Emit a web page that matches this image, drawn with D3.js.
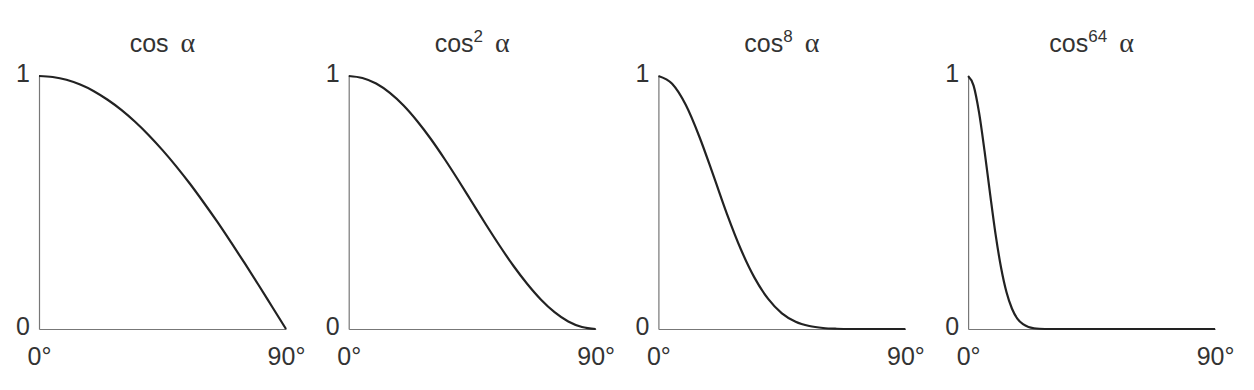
<!DOCTYPE html>
<html lang="en">
    <head>
        <meta charset="utf-8">
        <title>cos powers</title>
        <script type="text/javascript" src="https://cdn.jsdelivr.net/npm/d3@7/dist/d3.min.js"></script>
        <style>
            body { margin: 0; background: #fff; }
            text { font-family: "Liberation Sans", Arial, sans-serif; fill: #333; }
            .axis path { stroke: #777; stroke-width: 1.2; }
        </style>
    </head>
    <body>
        <script type="text/javascript">

            var angles = [0, 5, 10, 15, 20, 25, 30, 35, 40, 45, 50, 55, 60, 65, 70, 75, 80, 85, 90];
            var anglesFine = [0, 2, 4, 6, 8, 10, 12, 14, 16, 18, 20, 22, 24, 26, 30, 40, 60, 90];

            var cos1 = [1, 0.996, 0.985, 0.966, 0.94, 0.906, 0.866, 0.819, 0.766, 0.707, 0.643, 0.574, 0.5, 0.423, 0.342, 0.259, 0.174, 0.087, 0];
            var cos2 = [1, 0.992, 0.97, 0.933, 0.883, 0.821, 0.75, 0.671, 0.587, 0.5, 0.413, 0.329, 0.25, 0.179, 0.117, 0.067, 0.03, 0.008, 0];
            var cos8 = [1, 0.969, 0.885, 0.758, 0.608, 0.454, 0.316, 0.203, 0.119, 0.062, 0.029, 0.012, 0.004, 0.001, 0, 0, 0, 0, 0];
            var cos64 = [1, 0.962, 0.855, 0.703, 0.535, 0.375, 0.243, 0.145, 0.08, 0.04, 0.019, 0.008, 0.003, 0.001, 0, 0, 0, 0];

            var titles = ["", "2", "8", "64"];          // exponent shown in each title
            var yTicks = [0, 1];
            var xTicks = [0, 90];

            var panels = [
                {sup: titles[0], x: angles, y: cos1},
                {sup: titles[1], x: angles, y: cos2},
                {sup: titles[2], x: angles, y: cos8},
                {sup: titles[3], x: anglesFine, y: cos64}
            ];

            var w = 1254, h = 390;
            var left0 = 39, step = 309.7, pw = 247;
            var yTop = 76, yBottom = 329;

            var svg = d3.select("body")
                .append("svg")
                .attr("width", w)
                .attr("height", h);

            var yScale = d3.scaleLinear().domain([0, 1]).range([yBottom, yTop]);

            panels.forEach(function(p, i) {
                var x0 = left0 + i * step;
                var xScale = d3.scaleLinear().domain([0, 90]).range([0, pw]);

                var g = svg.append("g").attr("transform", "translate(" + x0 + ",0)");

                var yAxis = d3.axisLeft(yScale)
                    .tickValues(yTicks)
                    .tickSize(0)
                    .tickPadding(9)
                    .tickFormat(d3.format("d"));
                var ya = g.append("g").attr("class", "axis").call(yAxis);

                var xAxis = d3.axisBottom(xScale)
                    .tickValues(xTicks)
                    .tickSize(0)
                    .tickPadding(18)
                    .tickFormat(function(d) { return d + "\u00b0"; });
                g.append("g").attr("class", "axis")
                    .attr("transform", "translate(0," + yBottom + ")")
                    .call(xAxis);

                g.selectAll(".axis text")
                    .attr("font-size", 25)
                    .attr("font-family", "Liberation Sans, Arial, sans-serif")
                    .attr("fill", "#333");
                ya.selectAll("text").attr("dy", "0.2em");

                var line = d3.line()
                    .x(function(d, k) { return xScale(p.x[k]); })
                    .y(function(d) { return yScale(d); })
                    .curve(d3.curveMonotoneX);

                g.append("path")
                    .datum(p.y)
                    .attr("d", line)
                    .attr("fill", "none")
                    .attr("stroke", "#222")
                    .attr("stroke-width", 2.2);

                // title
                var t = g.append("text")
                    .attr("x", pw / 2)
                    .attr("y", 52)
                    .attr("text-anchor", "middle")
                    .attr("font-size", 25);
                t.append("tspan").text("cos");
                if (p.sup) {
                    t.append("tspan").text(p.sup)
                        .attr("font-size", 17)
                        .attr("dy", -10);
                }
                t.append("tspan").text("\u03b1")
                    .attr("dx", 12)
                    .attr("dy", p.sup ? 10 : 0)
                    .attr("font-family", "Liberation Serif, serif")
                    .attr("font-size", 28);
            });

        </script>
    </body>
</html>
